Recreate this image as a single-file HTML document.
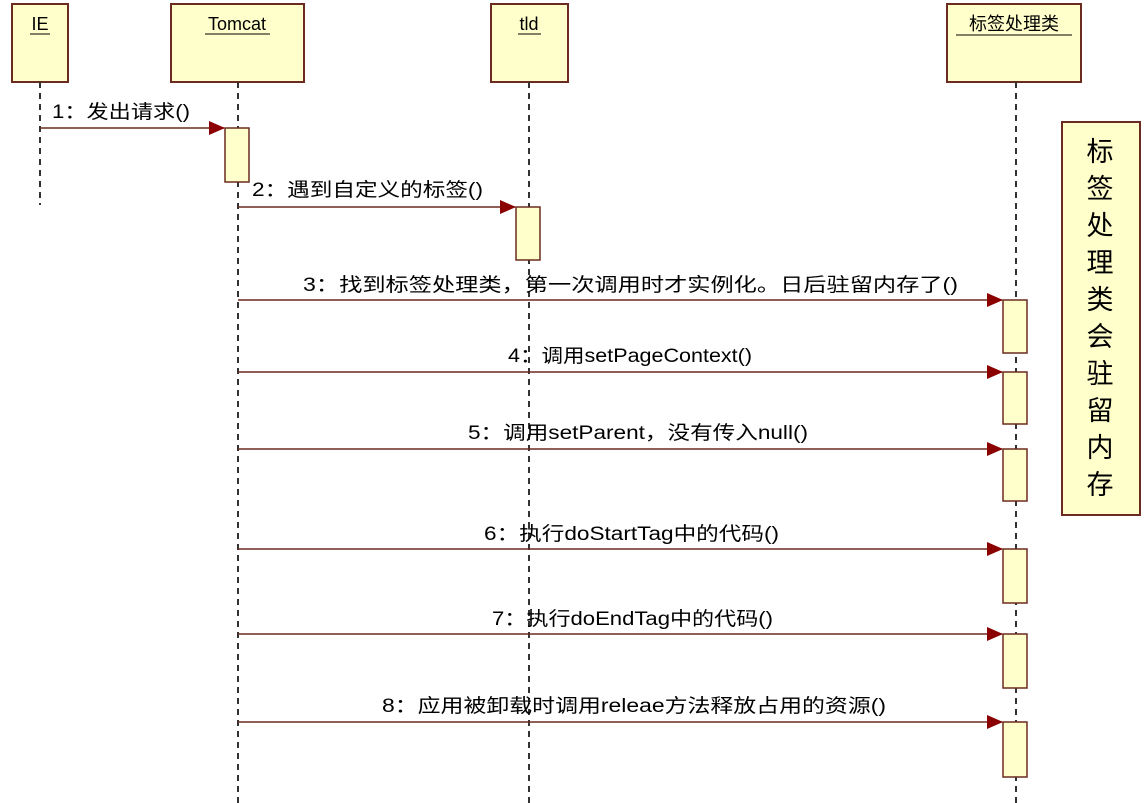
<!DOCTYPE html>
<html><head><meta charset="utf-8"><style>
html,body{margin:0;padding:0;background:#fff;width:1144px;height:803px;overflow:hidden}
text{font-family:"Liberation Sans","Noto Sans CJK SC",sans-serif;fill:#000}
</style></head><body>
<svg width="1144" height="803" xmlns="http://www.w3.org/2000/svg">
<defs><marker id="a" markerWidth="16" markerHeight="14" refX="15" refY="7" orient="auto" markerUnits="userSpaceOnUse"><path d="M0,0 L16,7 L0,14 Z" fill="#8b0000"/></marker></defs>
<g fill="#ffffcc" stroke="#6b2b20" stroke-width="2">
<rect x="12" y="4" width="56" height="78"/>
<rect x="171" y="4" width="133" height="78"/>
<rect x="491" y="4" width="77" height="78"/>
<rect x="947" y="4" width="134" height="78"/>
<rect x="1062" y="122" width="78" height="393"/>
</g>
<g stroke="#333" stroke-width="2" stroke-dasharray="6,5">
<line x1="40" y1="82" x2="40" y2="205"/>
<line x1="238" y1="82" x2="238" y2="803"/>
<line x1="529" y1="82" x2="529" y2="803"/>
<line x1="1016" y1="82" x2="1016" y2="803"/>
</g>
<g font-size="18" text-anchor="middle">
<text x="40" y="30">IE</text><line x1="30" y1="34" x2="50" y2="34" stroke="#000"/>
<text x="237" y="30">Tomcat</text><line x1="205" y1="34" x2="270" y2="34" stroke="#000"/>
<text x="529" y="30">tld</text><line x1="518" y1="34" x2="541" y2="34" stroke="#000"/>
<text x="1014" y="30">标签处理类</text><line x1="956" y1="35" x2="1072" y2="35" stroke="#000"/>
</g>
<g stroke="#6b2b20" stroke-width="1.5" marker-end="url(#a)">
<line x1="40" y1="128" x2="224" y2="128"/>
<line x1="238" y1="207" x2="515" y2="207"/>
<line x1="238" y1="300" x2="1002" y2="300"/>
<line x1="238" y1="372" x2="1002" y2="372"/>
<line x1="238" y1="449" x2="1002" y2="449"/>
<line x1="238" y1="549" x2="1002" y2="549"/>
<line x1="238" y1="634" x2="1002" y2="634"/>
<line x1="238" y1="722" x2="1002" y2="722"/>
</g>
<g fill="#ffffcc" stroke="#6b2b20" stroke-width="1.5">
<rect x="225" y="128" width="24" height="54"/>
<rect x="516" y="207" width="24" height="53"/>
<rect x="1003" y="300" width="24" height="53"/>
<rect x="1003" y="372" width="24" height="52"/>
<rect x="1003" y="449" width="24" height="52"/>
<rect x="1003" y="549" width="24" height="54"/>
<rect x="1003" y="634" width="24" height="54"/>
<rect x="1003" y="722" width="24" height="55"/>
</g>
<g font-size="19" lengthAdjust="spacingAndGlyphs">
<text x="52" y="118" textLength="138" lengthAdjust="spacingAndGlyphs">1：发出请求()</text>
<text x="252" y="196" textLength="231" lengthAdjust="spacingAndGlyphs">2：遇到自定义的标签()</text>
<text x="303" y="291" textLength="655" lengthAdjust="spacingAndGlyphs">3：找到标签处理类，第一次调用时才实例化。日后驻留内存了()</text>
<text x="508" y="362" textLength="244" lengthAdjust="spacingAndGlyphs">4：调用setPageContext()</text>
<text x="468" y="439" textLength="340" lengthAdjust="spacingAndGlyphs">5：调用setParent，没有传入null()</text>
<text x="484" y="540" textLength="295" lengthAdjust="spacingAndGlyphs">6：执行doStartTag中的代码()</text>
<text x="492" y="625" textLength="281" lengthAdjust="spacingAndGlyphs">7：执行doEndTag中的代码()</text>
<text x="382" y="712" textLength="504" lengthAdjust="spacingAndGlyphs">8：应用被卸载时调用releae方法释放占用的资源()</text>
</g>
<g font-size="27" text-anchor="middle">
<text x="1100" y="161">标</text><text x="1100" y="198">签</text><text x="1100" y="235">处</text>
<text x="1100" y="272">理</text><text x="1100" y="309">类</text><text x="1100" y="346">会</text>
<text x="1100" y="383">驻</text><text x="1100" y="420">留</text><text x="1100" y="457">内</text>
<text x="1100" y="494">存</text>
</g>
</svg>
</body></html>
